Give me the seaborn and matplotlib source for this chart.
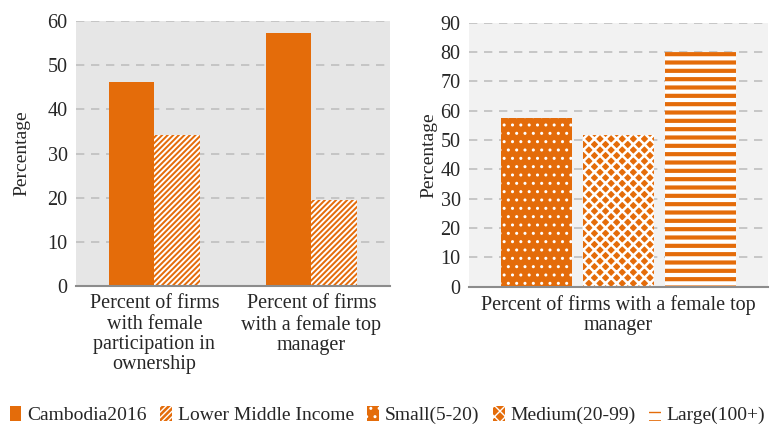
import pandas as pd
import seaborn as sns
from matplotlib import pyplot as plt
from matplotlib.patches import Patch
from matplotlib.ticker import FixedLocator

# data
left_categories = ['Percent of firms\nwith female\nparticipation in\nownership',
                   'Percent of firms\nwith a female top\nmanager']
cambodia_values = [46.1, 57.3]
lmi_values = [34.1, 19.4]
left_series = ['Cambodia2016', 'Lower Middle Income']

right_category = ['Percent of firms with a female top\nmanager']
size_labels = ['Small(5-20)', 'Medium(20-99)', 'Large(100+)']
size_values = [57.4, 51.9, 80.1]

orange = '#E46C0A'

sns.set_theme(style='white')
plt.rcParams['font.family'] = ['Liberation Serif', 'DejaVu Serif']

left_df = pd.DataFrame({
    'category': left_categories * 2,
    'series': [left_series[0]] * 2 + [left_series[1]] * 2,
    'value': cambodia_values + lmi_values,
})
right_df = pd.DataFrame({
    'category': right_category * 3,
    'series': size_labels,
    'value': size_values,
})

fig = plt.figure(figsize=(7.75, 4.3), dpi=100)
ax1 = fig.add_axes([0.098, 0.335, 0.405, 0.616])
ax2 = fig.add_axes([0.605, 0.333, 0.386, 0.614])

sns.barplot(data=left_df, x='category', y='value', hue='series', ax=ax1,
            width=0.58, palette=[orange, orange], legend=False)
sns.barplot(data=right_df, x='category', y='value', hue='series', ax=ax2,
            width=0.826, gap=0.14, palette=[orange] * 3, legend=False)

# patterns: (facecolor, hatch colour, hatch, hatch width)
styles = {
    'Cambodia2016': (orange, orange, None, 1.0),
    'Lower Middle Income': (orange, 'white', '//////', 1.4),
    'Small(5-20)': (orange, 'white', '..', 1.0),
    'Medium(20-99)': (orange, 'white', 'xxx', 1.8),
    'Large(100+)': ('white', orange, '--', 3.0),
}


def style_bar(p, name):
    fc, hc, hatch, hlw = styles[name]
    p.set_facecolor(fc)
    p.set_edgecolor(hc)
    p.set_linewidth(0)
    if hatch:
        p.set_hatch(hatch)
        if hasattr(p, 'set_hatch_linewidth'):
            p.set_hatch_linewidth(hlw)


for ax, names in [(ax1, left_series), (ax2, size_labels)]:
    for cont, name in zip(ax.containers, names):
        for p in cont:
            style_bar(p, name)

ax1.set_facecolor('#E6E6E6')
ax2.set_facecolor('#F2F2F2')
ax1.set_ylim(0, 60)
ax2.set_ylim(0, 90)
ax1.set_yticks(range(0, 61, 10))
ax2.set_yticks(range(0, 91, 10))

for ax, n in [(ax1, 2), (ax2, 1)]:
    ax.set_xlim(-0.5, n - 0.5)
    for s in ['top', 'right', 'left']:
        ax.spines[s].set_visible(False)
    ax.spines['bottom'].set_color('#8C8C8C')
    ax.spines['bottom'].set_linewidth(1.5)
    ax.yaxis.grid(True, color='#BFBFBF', linestyle=(0, (5, 4)), linewidth=1.2)
    ax.set_axisbelow(True)
    ax.set_xlabel('')
    ax.tick_params(axis='y', labelsize=14.5, labelcolor='#262626', length=0, pad=6)
    ax.tick_params(axis='x', which='major', labelsize=14.5, labelcolor='#262626', length=0, pad=6)
    for lab in ax.get_xticklabels():
        lab.set_linespacing(1.1)
    ax.xaxis.set_minor_locator(FixedLocator([i - 0.5 for i in range(n + 1)]))
    ax.tick_params(axis='x', which='minor', length=6, width=1.2, color='#8C8C8C')

ax1.set_ylabel('Percentage', fontsize=14, color='#262626', labelpad=12)
ax2.set_ylabel('Percentage', fontsize=14, color='#262626', labelpad=2)

handles = [Patch(facecolor=styles[nm][0], edgecolor=styles[nm][1], linewidth=0,
                 hatch=styles[nm][2], label=nm)
           for nm in left_series + size_labels]
fig.legend(handles=handles, loc='center', bbox_to_anchor=(0.5, 0.035), ncol=5,
           frameon=False, fontsize=14, handlelength=0.6, handleheight=0.8,
           handletextpad=0.3, columnspacing=0.7, labelcolor='#262626')

fig.savefig('out.png', dpi=100)
